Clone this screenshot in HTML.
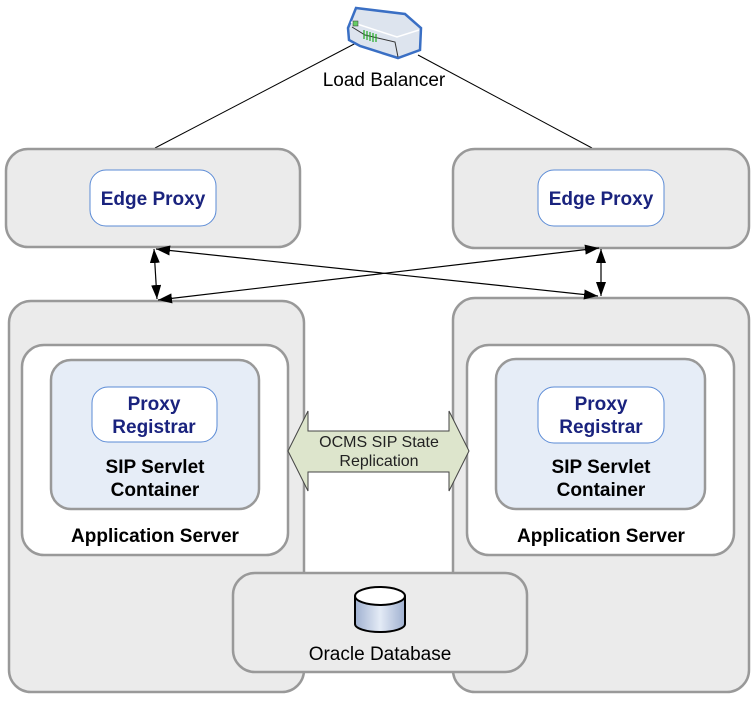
<!DOCTYPE html>
<html><head><style>body{margin:0;background:#fff}</style></head><body>
<svg width="753" height="701" xmlns="http://www.w3.org/2000/svg" font-family="Liberation Sans, sans-serif">
<defs>
<marker id="a" markerWidth="14" markerHeight="10" refX="14" refY="5" orient="auto-start-reverse" markerUnits="userSpaceOnUse"><path d="M0,0L14,5L0,10Z" fill="#000"/></marker>
<linearGradient id="cy" x1="0" x2="1"><stop offset="0" stop-color="#9fb0d0"/><stop offset=".5" stop-color="#e4ebf6"/><stop offset="1" stop-color="#9fb0d0"/></linearGradient>
</defs>
<line x1="155" y1="148" x2="358" y2="42" stroke="#000"/>
<line x1="592" y1="148" x2="418" y2="55" stroke="#000"/>
<!-- load balancer -->
<path d="M348,28 L356,8 L405,14 L421,28 L420,50 L398,58 L360,46 L349,40 Z" fill="#dde4ee" stroke="#3a6fc4" stroke-width="2.5"/>
<path d="M351,22 L397,37 L419,30" fill="none" stroke="#fff" stroke-width="1.5"/>
<path d="M352,27 L365,35 L395,42 L398,57" fill="none" stroke="#333" stroke-width="1"/>
<rect x="353" y="21" width="5" height="5" fill="#6c6" stroke="#333" stroke-width=".5"/>
<path d="M364,30v9M367,31v9M370,32v9M373,33v9M376,34v8" stroke="#2a2" stroke-width="1.2"/>
<text x="384" y="86" text-anchor="middle" font-size="19">Load Balancer</text>
<g stroke="#999" stroke-width="2.5" fill="#ebebeb">
<rect x="6" y="149" width="294" height="98" rx="22"/>
<rect x="453" y="149" width="296" height="99" rx="22"/>
<rect x="9" y="301" width="295" height="391" rx="22"/>
<rect x="453" y="298" width="296" height="394" rx="22"/>
<rect x="22" y="345" width="266" height="210" rx="22" fill="#fff"/>
<rect x="467" y="345" width="267" height="210" rx="22" fill="#fff"/>
<rect x="51" y="360" width="208" height="149" rx="20" fill="#e6edf7"/>
<rect x="496" y="359" width="209" height="150" rx="20" fill="#e6edf7"/>
<rect x="233" y="573" width="294" height="99" rx="22"/>
</g>
<g stroke="#5b8bd6" stroke-width="1" fill="#fff">
<rect x="90" y="170" width="126" height="56" rx="16"/>
<rect x="538" y="170" width="126" height="56" rx="16"/>
<rect x="92" y="387" width="125" height="55" rx="16"/>
<rect x="538" y="387" width="126" height="56" rx="16"/>
</g>
<g fill="#1a237e" font-weight="bold" font-size="19" text-anchor="middle">
<text x="153" y="205">Edge Proxy</text>
<text x="601" y="205">Edge Proxy</text>
<text x="154" y="410">Proxy</text><text x="154" y="433">Registrar</text>
<text x="601" y="410">Proxy</text><text x="601" y="433">Registrar</text>
</g>
<g font-weight="bold" font-size="19" text-anchor="middle" fill="#000">
<text x="155" y="473">SIP Servlet</text><text x="155" y="496">Container</text>
<text x="601" y="473">SIP Servlet</text><text x="601" y="496">Container</text>
<text x="155" y="542">Application Server</text>
<text x="601" y="542">Application Server</text>
</g>
<g stroke="#000" stroke-width="1.2" marker-start="url(#a)" marker-end="url(#a)">
<line x1="154" y1="249" x2="157" y2="299"/>
<line x1="601" y1="249" x2="601" y2="296"/>
<line x1="156" y1="249" x2="598" y2="296"/>
<line x1="158" y1="300" x2="599" y2="248"/>
</g>
<path d="M288,451 L308,411 L308,431 L449,431 L449,411 L469,451 L449,491 L449,472 L308,472 L308,491 Z" fill="#dde5cc" stroke="#444"/>
<text x="379" y="447" text-anchor="middle" font-size="16" fill="#222">OCMS SIP State</text>
<text x="379" y="466" text-anchor="middle" font-size="16" fill="#222">Replication</text>
<path d="M355,596 L355,624 A25,8 0 0 0 405,624 L405,596" fill="url(#cy)" stroke="#000" stroke-width="2"/>
<ellipse cx="380" cy="596" rx="25" ry="9" fill="#fff" stroke="#000" stroke-width="2"/>
<text x="380" y="660" text-anchor="middle" font-size="19">Oracle Database</text>
</svg>
</body></html>
